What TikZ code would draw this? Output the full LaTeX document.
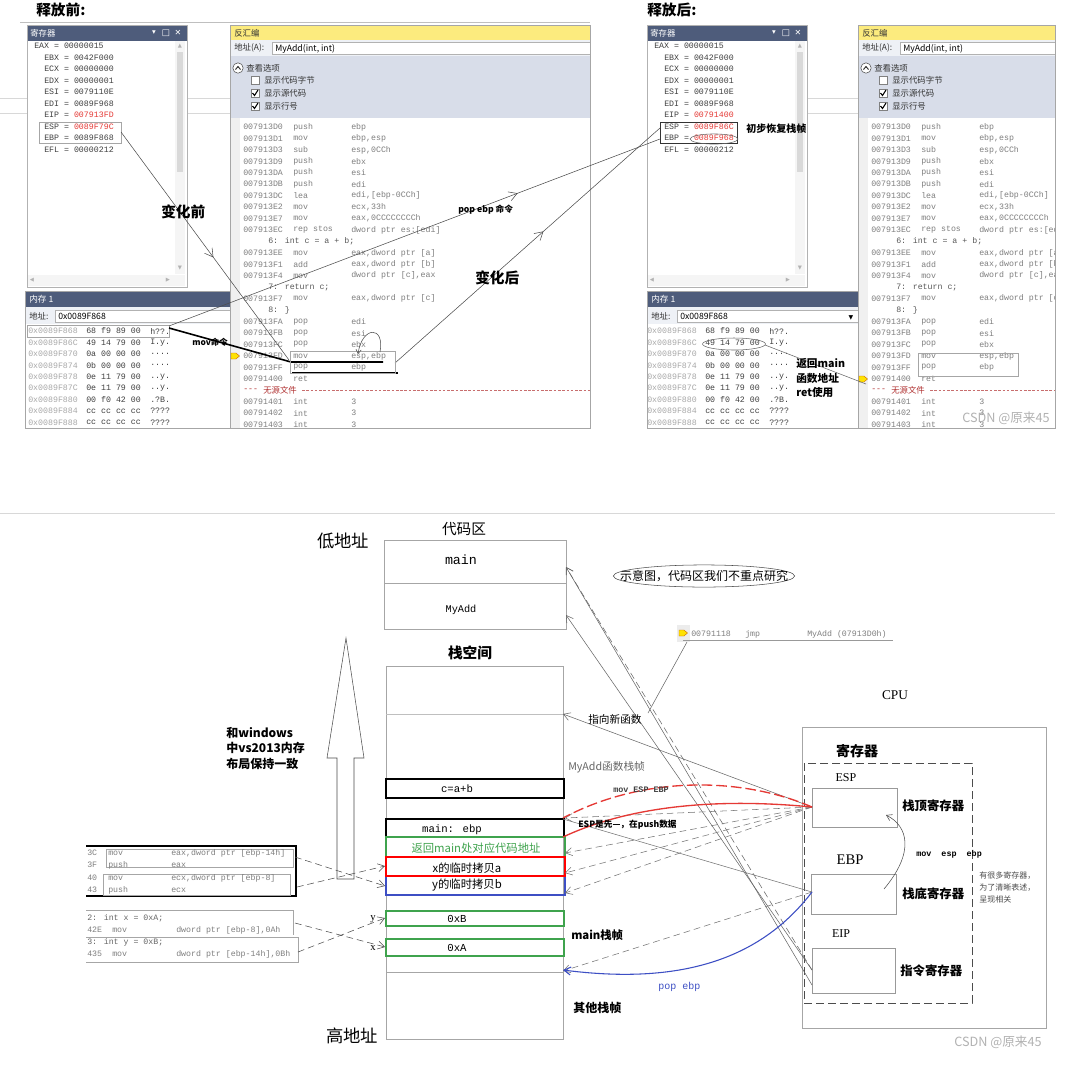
\documentclass[tikz,border=0pt]{standalone}
\usepackage{fontspec}
\setmainfont{Liberation Serif}
\newfontfamily\cjk{Noto Sans CJK SC}
\newfontfamily\mono{Liberation Mono}
\newfontfamily\symf{DejaVu Sans}
\usetikzlibrary{arrows.meta,calc,decorations.markings}
\definecolor{tbar}{HTML}{4E5C7B}
\definecolor{yelbar}{HTML}{FCEB7E}
\definecolor{optbg}{HTML}{D8DDE9}
\definecolor{addrbg}{HTML}{EEF1F6}
\definecolor{cgray}{HTML}{7F7F7F}
\definecolor{agray}{HTML}{A8A8A8}
\definecolor{rred}{HTML}{E53935}
\definecolor{dred}{HTML}{B03030}
\definecolor{sgreen}{HTML}{3FA34D}
\definecolor{sblue}{HTML}{3D4FC4}
\definecolor{lgray}{HTML}{D8D8D8}
\tikzset{
  txt/.style={inner sep=0pt, anchor=west},
  ctr/.style={inner sep=0pt},
  code/.style={txt, font=\mono\fontsize{6.2}{7}\selectfont, text=cgray},
  reg/.style={txt, font=\mono\fontsize{6.2}{7}\selectfont, text=black!75},
  ui/.style={txt, font=\cjk\fontsize{6.3}{7}\selectfont, text=black!80},
  openarr/.style={-{Straight Barb[length=5pt,width=6pt]}},
  midarr/.style={postaction={decorate,decoration={markings,mark=at position #1 with {\arrow{Straight Barb[length=6pt,width=7pt]}}}}},
  dsh/.style={dash pattern=on 5pt off 3pt},
  ymark/.style={fill=yellow!85!orange, draw=orange!80!black, line width=0.3pt},
}
% register window
\newcommand\regwin[5]{%
\fill[white] (0,25) rectangle (160,287);
\fill[tbar] (0,25) rectangle (160,41);
\node[txt,text=white,font=\cjk\fontsize{6.3}{7}\selectfont] (#1t) at (3,33) {寄存器};
\node[ctr,text=white,font=\symf\fontsize{5.5}{6}\selectfont] (#1i1) at (127,33) {▾};
\node[ctr,text=white,font=\symf\fontsize{6.5}{7}\selectfont] (#1i2) at (139,33) {□};
\node[ctr,text=white,font=\symf\fontsize{6}{7}\selectfont] (#1i3) at (151,33) {✕};
\fill[gray!8] (148,41) rectangle (158,274);
\fill[gray!30] (150,52) rectangle (156,172);
\fill[gray!8] (0,275) rectangle (158,286);
\node[ctr,text=gray!60,font=\symf\fontsize{4}{5}\selectfont] (#1s1) at (153,46) {▲};
\node[ctr,text=gray!60,font=\symf\fontsize{4}{5}\selectfont] (#1s2) at (153,268) {▼};
\node[ctr,text=gray!60,font=\symf\fontsize{4}{5}\selectfont] (#1s3) at (5,280.5) {◀};
\node[ctr,text=gray!60,font=\symf\fontsize{4}{5}\selectfont] (#1s4) at (141,280.5) {▶};
\node[reg] (#1r0) at (7,46) {EAX = 00000015};
\foreach \nm/\vl/\cl [count=\i] in {EBX/0042F000/black!75, ECX/00000000/black!75, EDX/00000001/black!75, ESI/0079110E/black!75, EDI/0089F968/black!75, EIP/#2/rred, ESP/#3/rred, EBP/#4/#5, EFL/00000212/black!75}{
  \node[reg] (#1r\i) at (17,{46+11.5*\i}) {\nm{} = {\color{\cl}\vl}};
}
\draw[gray!60] (0,25) rectangle (160,287);
}
% disassembly window
\newcommand\disasm[2]{%
\begin{scope}
\clip (0,25) rectangle (#2,428);
\fill[white] (0,25) rectangle (#2,428);
\fill[fill=yelbar] (0,25) rectangle (#2,40);
\node[ui] (#1t) at (4,33) {反汇编};
\fill[addrbg] (0,40) rectangle (#2,56);
\node[ui] (#1al) at (4,48) {地址(A):};
\draw[gray!60, fill=white] (42,42.5) rectangle (#2+5,54);
\node[txt,font=\cjk\fontsize{6.5}{7}\selectfont] (#1av) at (45,48.5) {MyAdd(int, int)};
\fill[optbg] (0,56) rectangle (#2,118);
\draw[black!70, fill=white] (8,68) circle[radius=3.9pt];
\draw[black!85, line width=0.7pt] (5.5,69.5) -- (8,66.5) -- (10.5,69.5);
\node[ui] (#1ov) at (16,68) {查看选项};
\foreach \yy/\lab/\chk [count=\k] in {80/显示代码字节/0, 93/显示源代码/1, 106/显示行号/1} {
  \draw[gray, fill=white] (21,\yy-4) rectangle (29,\yy+4);
  \ifnum\chk=1 \draw[black, line width=0.8pt] (22.5,\yy) -- (24.5,\yy+2.5) -- (28,\yy-3); \fi
  \node[ui] (#1o\k) at (34,\yy) {\lab};
}
\fill[gray!12] (0,118) rectangle (10,428);
\foreach \i/\a/\m/\o in {0/007913D0/push/ebp, 1/007913D1/mov/{ebp,esp}, 2/007913D3/sub/{esp,0CCh}, 3/007913D9/push/ebx, 4/007913DA/push/esi, 5/007913DB/push/edi, 6/007913DC/lea/{edi,[ebp-0CCh]}, 7/007913E2/mov/{ecx,33h}, 8/007913E7/mov/{eax,0CCCCCCCCh}, 9/007913EC/rep stos/{dword ptr es:[edi]}, 11/007913EE/mov/{eax,dword ptr [a]}, 12/007913F1/add/{eax,dword ptr [b]}, 13/007913F4/mov/{dword ptr [c],eax}, 15/007913F7/mov/{eax,dword ptr [c]}, 17/007913FA/pop/edi, 18/007913FB/pop/esi, 19/007913FC/pop/ebx, 20/007913FD/mov/{esp,ebp}, 21/007913FF/pop/ebp, 22/00791400/ret/{}, 24/00791401/int/3, 25/00791402/int/3, 26/00791403/int/3}{
  \node[code] (#1a\i) at (13,{127+11.45*\i}) {\a};
  \node[code] (#1m\i) at (63,{127+11.45*\i}) {\m};
  \node[code] (#1p\i) at (121,{127+11.45*\i}) {\o};
}
\foreach \i/\s in {10/{6: int c = a + b;}, 14/{7: return c;}, 16/{8: \}}}{
  \node[code,text=black!65] (#1s\i) at (38,{127+11.45*\i}) {\s};
}
\node[code,text=dred] (#1n1) at (13,390.3) {---};
\node[txt,font=\cjk\fontsize{6.3}{7}\selectfont,text=dred] (#1n2) at (33,390.3) {无源文件};
\draw[dred!70, dash pattern=on 2pt off 1.2pt, line width=0.4pt] (72,390.3) -- (#2,390.3);
\end{scope}
\draw[gray!70] (0,25) rectangle (#2,428);
}
% memory window
\newcommand\memwin[3]{%
\fill[white] (0,291) rectangle (#2,428);
\fill[tbar] (0,291) rectangle (#2,307);
\node[txt,text=white,font=\cjk\fontsize{6.5}{7}\selectfont] (#1t) at (4,299.5) {内存 1};
\fill[addrbg] (0,307) rectangle (#2,324);
\node[ui] (#1al) at (4,316) {地址:};
\draw[gray!60,fill=white] (30,310.5) rectangle (#2,322);
\node[txt,font=\cjk\fontsize{6.5}{7}\selectfont] (#1av) at (33,316.5) {0x0089F868};
\foreach \a/\b/\c [count=\i from 0] in {0x0089F868/68 f9 89 00/{h??.}, 0x0089F86C/49 14 79 00/{I.y.}, 0x0089F870/0a 00 00 00/{....}, 0x0089F874/0b 00 00 00/{....}, 0x0089F878/0e 11 79 00/{..y.}, 0x0089F87C/0e 11 79 00/{..y.}, 0x0089F880/00 f0 42 00/{.?B.}, 0x0089F884/cc cc cc cc/{????}, 0x0089F888/cc cc cc cc/{????}}{
  \node[code,text=agray] (#1a\i) at (#3,{331+11.45*\i}) {\a};
  \node[code,text=black!75] (#1b\i) at (#3+58,{331+11.45*\i}) {\b};
  \node[code,text=black!75] (#1c\i) at (#3+122,{331+11.45*\i}) {\c};
}
\draw[gray!70] (0,291) rectangle (#2,428);
}
\begin{document}
\begin{tikzpicture}[x=0.75pt,y=-0.75pt]
\useasboundingbox (0,0) rectangle (1067,1083);
\fill[white] (0,0) rectangle (1067,1083);

% ================= TOP =================
\node[txt,font=\cjk\bfseries\fontsize{11}{12}\selectfont] (hb) at (36,10) {释放前:};
\node[txt,font=\cjk\bfseries\fontsize{11}{12}\selectfont] (ha) at (647,10) {释放后:};
\draw[gray!50] (20,22) -- (590,22);
\foreach \yy in {98,113}{\draw[lgray] (0,\yy) -- (230,\yy); \draw[lgray] (806,\yy) -- (858,\yy);}

\begin{scope}[shift={(27,0)}] \regwin{L}{007913FD}{0089F79C}{0089F868}{black!75} \end{scope}
\begin{scope}[shift={(230,0)}] \disasm{LD}{360} \end{scope}
\begin{scope}[shift={(25,0)}] \memwin{LM}{205}{3} \end{scope}
\begin{scope}[shift={(647,0)}] \regwin{R}{00791400}{0089F86C}{0089F968}{rred} \end{scope}
\begin{scope}[shift={(858,0)}] \disasm{RD}{197} \end{scope}
\begin{scope}[shift={(647,0)}] \memwin{RM}{211}{0} \end{scope}
\node[ctr,font=\symf\fontsize{4.5}{5}\selectfont] (rdd) at (851,318) {▼};

% yellow markers
\fill[ymark] (231,353) -- (236,353) -- (239.5,356) -- (236,359) -- (231,359) -- cycle;
\fill[ymark] (859,376) -- (864,376) -- (867.5,379) -- (864,382) -- (859,382) -- cycle;

% left annotations
\draw[gray!70] (39,122) rectangle (121,143);
\draw[gray!70] (27,325) rectangle (169,337);
\coordinate (espL) at (121,132);
\coordinate (movrow) at (289,360);
\draw[black!70, midarr=0.55] (espL) -- (movrow);
\node[txt,font=\cjk\bfseries\fontsize{11}{12}\selectfont] (bq) at (161,212) {变化前};
\coordinate (memrow) at (169,326);
\coordinate (rEBP) at (660,139);
\draw[black!70, midarr=0.71] (memrow) -- (rEBP);
\node[txt,font=\cjk\bfseries\fontsize{6.5}{7}\selectfont] (popl) at (458,210) {pop ebp 命令};
\coordinate (mvbox) at (395,363);
\coordinate (rESP) at (660,128);
\draw[black!70, midarr=0.56] (mvbox) -- (rESP);
\node[txt,font=\cjk\bfseries\fontsize{11}{12}\selectfont] (aq) at (475,278) {变化后};
\draw[black, line width=1.2pt] (169,328) -- (291,362) -- (383,362);
\draw[black, line width=1.2pt] (292,373) -- (398,373);
\node[txt,font=\cjk\bfseries\fontsize{6.3}{7}\selectfont] (movl) at (192,342) {mov命令};
\draw[gray!70] (290,351) rectangle (395,373);
\draw[black!70, -{Straight Barb[length=3pt,width=4pt]}] (380,352) .. controls (385,325) and (362,326) .. (358,354);

% right annotations
\draw[black!80] (660,122) rectangle (737,143);
\draw[black!60] (714,139) ellipse [x radius=18pt, y radius=3.8pt];
\node[txt,font=\cjk\bfseries\fontsize{7.5}{8}\selectfont] (init) at (746,129) {初步恢复栈帧};
\draw[black!60] (734,344) ellipse [x radius=23.6pt, y radius=4.5pt];
\draw[black!60] (765,345) -- (866,384);
\node[txt,font=\cjk\bfseries\fontsize{8}{9}\selectfont] (ret1) at (796,363) {返回main};
\node[txt,font=\cjk\bfseries\fontsize{8}{9}\selectfont] (ret2) at (796,378) {函数地址};
\node[txt,font=\cjk\bfseries\fontsize{8}{9}\selectfont] (ret3) at (796,392) {ret使用};
\draw[gray!70] (918,353) rectangle (1018,376);
\node[txt,text=gray!60,font=\cjk\fontsize{9.5}{10}\selectfont] (wm1) at (962,418) {CSDN @原来45};

% ================= BOTTOM =================
\draw[lgray] (0,513) -- (1055,513);
\node[ctr,font=\cjk\fontsize{11}{12}\selectfont] (cqt) at (464,529) {代码区};
\node[ctr,font=\cjk\fontsize{13}{14}\selectfont] (low) at (343,541) {低地址};
\draw[gray!70] (384,540) rectangle (566,629);
\draw[gray!70] (384,583) -- (566,583);
\node[ctr,font=\mono\fontsize{10}{11}\selectfont] (cmain) at (461,560) {main};
\node[ctr,font=\mono\fontsize{7.7}{9}\selectfont] (cmyadd) at (461,610) {MyAdd};
\coordinate (cmainR) at (566,567);
\coordinate (cmyR) at (566,615);

\node[ctr,font=\cjk\bfseries\fontsize{11}{12}\selectfont] (stk) at (470,653) {栈空间};
\draw[gray!70] (386,666) rectangle (563,1039);
\draw[gray!50] (386,714) -- (563,714);
\coordinate (stkTop) at (563,714);
\draw[black!70] (337,879) -- (337,758) -- (327,758) -- (346,638) -- (364,758) -- (354,758) -- (354,879) -- cycle;
\node[txt,font=\cjk\bfseries\fontsize{9}{10}\selectfont] (w1) at (226,733) {和windows};
\node[txt,font=\cjk\bfseries\fontsize{9}{10}\selectfont] (w2) at (226,748) {中vs2013内存};
\node[txt,font=\cjk\bfseries\fontsize{9}{10}\selectfont] (w3) at (226,764) {布局保持一致};

\draw[black, line width=1pt] (386,779) rectangle (564,798);
\node[ctr,font=\mono\fontsize{8}{9}\selectfont] (cab) at (457,789) {c=a+b};
\draw[black, line width=1pt] (386,819) rectangle (564,837);
\node[ctr,font=\mono\fontsize{8}{9}\selectfont] (mebp) at (452,830) {main: ebp};
\draw[sblue, line width=1pt] (386,876) rectangle (565,895);
\draw[sgreen, line width=1pt] (386,837) rectangle (565,857);
\draw[red, line width=1pt] (386,857) rectangle (565,876);
\node[ctr,font=\cjk\fontsize{8.5}{9}\selectfont,text=sgreen] (rmain) at (476,848) {返回main处对应代码地址};
\node[ctr,font=\cjk\fontsize{8.5}{9}\selectfont] (xa) at (467,868) {x的临时拷贝a};
\node[ctr,font=\cjk\fontsize{8.5}{9}\selectfont] (yb) at (467,885) {y的临时拷贝b};
\draw[sgreen, line width=1pt] (386,911) rectangle (564,926);
\node[ctr,font=\mono\fontsize{8}{9}\selectfont] (vb) at (457,919) {0xB};
\draw[sgreen, line width=1pt] (386,939) rectangle (564,956);
\node[ctr,font=\mono\fontsize{8}{9}\selectfont] (va) at (457,948) {0xA};
\draw[gray!70] (386,972) -- (563,972);
\node[txt,font=\cjk\fontsize{8}{9}\selectfont,text=black!60] (myf) at (568,767) {MyAdd函数栈帧};
\node[txt,font=\cjk\bfseries\fontsize{8.5}{9}\selectfont] (mf) at (571,935) {main栈帧};
\node[txt,font=\cjk\bfseries\fontsize{9}{10}\selectfont] (of) at (573,1008) {其他栈帧};
\node[ctr,font=\cjk\fontsize{13}{14}\selectfont] (high) at (352,1036) {高地址};
\node[ctr,font=\fontsize{8}{9}\selectfont] (ly) at (373,919) {y};
\node[ctr,font=\fontsize{8}{9}\selectfont] (lx) at (373,948) {x};

% left code snippets
\draw[black, line width=1pt] (86,846) -- (296,846) -- (296,896) -- (86,896);
\draw[gray!70] (106,849) rectangle (293,867);
\draw[gray!70] (103,874) rectangle (290,895);
\foreach \yy/\n/\m/\o [count=\i] in {853/3C/mov/{eax,dword ptr [ebp-14h]}, 865/3F/push/eax, 878/40/mov/{ecx,dword ptr [ebp-8]}, 890/43/push/ecx}{
  \node[code] (sn\i) at (87,\yy) {\n};
  \node[code] (sm\i) at (108,\yy) {\m};
  \node[code] (so\i) at (171,\yy) {\o};
}
\draw[gray!70] (86,910) -- (293,910) -- (293,935);
\node[code,text=black!60] (s2a) at (87,918) {2: int x = 0xA;};
\node[code] (s2b) at (87,930) {42E};
\node[code] (s2c) at (112,930) {mov};
\node[code] (s2d) at (176,930) {dword ptr [ebp-8],0Ah};
\draw[gray!70] (86,937) -- (298,937) -- (298,962) -- (86,962);
\node[code,text=black!60] (s3a) at (87,942) {3: int y = 0xB;};
\node[code] (s3b) at (87,954) {435};
\node[code] (s3c) at (112,954) {mov};
\node[code] (s3d) at (176,954) {dword ptr [ebp-14h],0Bh};
\draw[black!70, dsh, openarr] (295,857) -- (385,886);
\draw[black!70, dsh, openarr] (297,887) -- (385,866);
\draw[black!70, dsh, openarr] (295,923) -- (385,947);
\draw[black!70, dsh, openarr] (298,952) -- (385,918);

% CPU
\node[ctr,font=\fontsize{10}{11}\selectfont] (cpu) at (895,695) {CPU};
\draw[gray!70] (802,727) rectangle (1046,1028);
\node[ctr,font=\cjk\bfseries\fontsize{10.5}{11}\selectfont] (regs) at (857,751) {寄存器};
\draw[black!70, dash pattern=on 6pt off 3pt] (804,763) rectangle (972,1003);
\node[ctr,font=\fontsize{9}{10}\selectfont] (espl) at (846,778) {ESP};
\draw[gray!80] (812,788) rectangle (897,827);
\coordinate (espW) at (812,807);
\node[txt,font=\cjk\bfseries\fontsize{9.3}{10}\selectfont] (espd) at (902,806) {栈顶寄存器};
\node[ctr,font=\fontsize{11}{12}\selectfont] (ebpl) at (850,860) {EBP};
\draw[gray!80] (811,874) rectangle (896,914);
\coordinate (ebpW) at (812,892);
\node[txt,font=\cjk\bfseries\fontsize{9.3}{10}\selectfont] (ebpd) at (902,894) {栈底寄存器};
\node[ctr,font=\fontsize{9}{10}\selectfont] (eipl) at (841,934) {EIP};
\draw[gray!80] (812,948) rectangle (895,993);
\coordinate (eipW) at (812,970);
\coordinate (eipW2) at (812,985);
\node[txt,font=\cjk\bfseries\fontsize{9.3}{10}\selectfont] (eipd) at (900,971) {指令寄存器};
\node[txt,font=\mono\bfseries\fontsize{6.3}{7}\selectfont] (mee) at (916,854) {mov\ \ esp\ \ ebp};
\draw[black!70, -{Straight Barb[length=4pt,width=5pt]}] (884,889) .. controls (915,852) and (908,826) .. (886,815);
\node[txt,font=\cjk\fontsize{6}{7}\selectfont,text=black!70] (n1) at (979,876) {有很多寄存器，};
\node[txt,font=\cjk\fontsize{6}{7}\selectfont,text=black!70] (n2) at (979,888) {为了清晰表述，};
\node[txt,font=\cjk\fontsize{6}{7}\selectfont,text=black!70] (n3) at (979,899) {呈现相关};
\node[txt,text=gray!60,font=\cjk\fontsize{9.5}{10}\selectfont] (wm2) at (954,1042) {CSDN @原来45};

% code-area annotation
\draw[black!70] (704,576) ellipse [x radius=68pt, y radius=8.3pt];
\node[ctr,font=\cjk\fontsize{9}{10}\selectfont] (note) at (704,576) {示意图，代码区我们不重点研究};
\fill[gray!15] (677,625) rectangle (690,642);
\fill[ymark] (679,630) -- (684,630) -- (687.5,633) -- (684,636) -- (679,636) -- cycle;
\node[code] (j1) at (691,634) {00791118};
\node[code] (j2) at (745,634) {jmp};
\node[code] (j3) at (807,634) {MyAdd (07913D0h)};
\draw[gray!80] (683,640.5) -- (893,640.5);
\draw[black!60] (687,642) -- (648,713);

% connectors to code area
\draw[black!60, dsh, openarr] (eipW) -- (cmainR);
\draw[black!60, openarr] (eipW2) -- (cmainR);
\draw[black!60, openarr] (eipW) -- (cmyR);

% ESP / EBP connectors
\draw[black!60, openarr] (espW) -- (stkTop);
\node[txt,font=\cjk\fontsize{8}{9}\selectfont] (newf) at (588,719) {指向新函数};
\foreach \yy in {818,853,873,893}{\draw[black!55, dsh, openarr] (espW) -- (565,\yy);}
\draw[black!55] (563,819) -- (ebpW);
\draw[black!55, dsh, openarr] (ebpW) -- (563,971);
\draw[rred, line width=1pt, dash pattern=on 8pt off 3pt] (espW) .. controls (740,776) and (642,776) .. (563,818);
\draw[rred, line width=1pt] (espW) .. controls (740,800) and (642,800) .. (563,837);
\node[txt,font=\mono\bfseries\fontsize{6.3}{7}\selectfont,text=black!75] (mEE) at (613,790) {mov ESP EBP};
\node[txt,font=\cjk\bfseries\fontsize{6.5}{7}\selectfont] (espfirst) at (578,825) {ESP是先—，在push数据};
\draw[sblue, line width=0.8pt, openarr] (ebpW) .. controls (760,960) and (680,985) .. (563,970);
\node[txt,font=\mono\fontsize{7.5}{8}\selectfont,text=sblue] (pope) at (658,987) {pop ebp};
\end{tikzpicture}
\end{document}
